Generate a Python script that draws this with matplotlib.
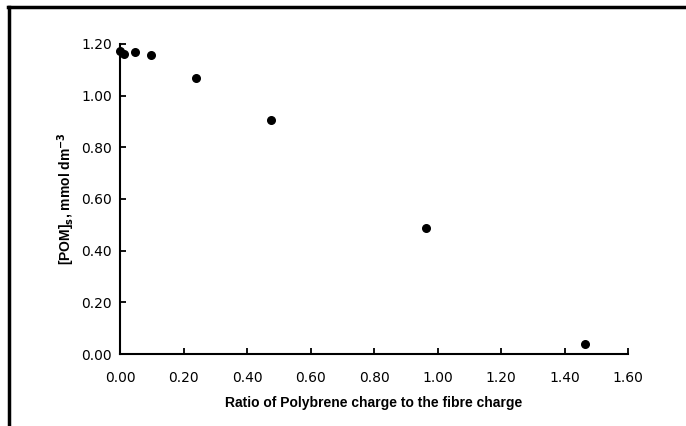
import matplotlib.pyplot as plt
from matplotlib.lines import Line2D

ratio = [0.00, 0.012, 0.047, 0.098, 0.24, 0.476, 0.964, 1.465]
pom = [1.174, 1.160, 1.170, 1.157, 1.067, 0.905, 0.489, 0.039]

xticks = [0.0, 0.2, 0.4, 0.6, 0.8, 1.0, 1.2, 1.4, 1.6]
yticks = [0.0, 0.2, 0.4, 0.6, 0.8, 1.0, 1.2]

fig = plt.figure(figsize=(6.86, 4.26), dpi=100)
ax = fig.add_axes([0.175, 0.169, 0.7405, 0.728])

ax.scatter(ratio, pom, s=30, color="black", zorder=3, clip_on=False)

ax.set_xlim(0, 1.6)
ax.set_ylim(0, 1.2)
ax.set_xticks(xticks)
ax.set_yticks(yticks)
ax.set_xticklabels([f"{v:.2f}" for v in xticks], fontsize=10, family="DejaVu Sans")
ax.set_yticklabels([f"{v:.2f}" for v in yticks], fontsize=10, family="DejaVu Sans")
ax.tick_params(direction="in", length=4, width=1.3)
ax.tick_params(axis="x", pad=12)
ax.tick_params(axis="y", pad=6)

for side in ["top", "right"]:
    ax.spines[side].set_visible(False)
for side in ["left", "bottom"]:
    ax.spines[side].set_linewidth(1.5)

ax.set_xlabel("Ratio of Polybrene charge to the fibre charge",
              fontsize=10, fontweight="bold", family="Liberation Sans", labelpad=8)
ax.set_ylabel(r"[POM]$_\mathbf{s}$, mmol dm$^\mathbf{-3}$",
              fontsize=10, fontweight="bold", family="Liberation Sans", labelpad=3)

# outer frame lines (top and left)
fig.add_artist(Line2D([8 / 686, 1], [1 - 7 / 426, 1 - 7 / 426], color="black", lw=2.5))
fig.add_artist(Line2D([9 / 686, 9 / 686], [0, 1 - 7 / 426], color="black", lw=2.5))

fig.savefig("out.png", dpi=100)
